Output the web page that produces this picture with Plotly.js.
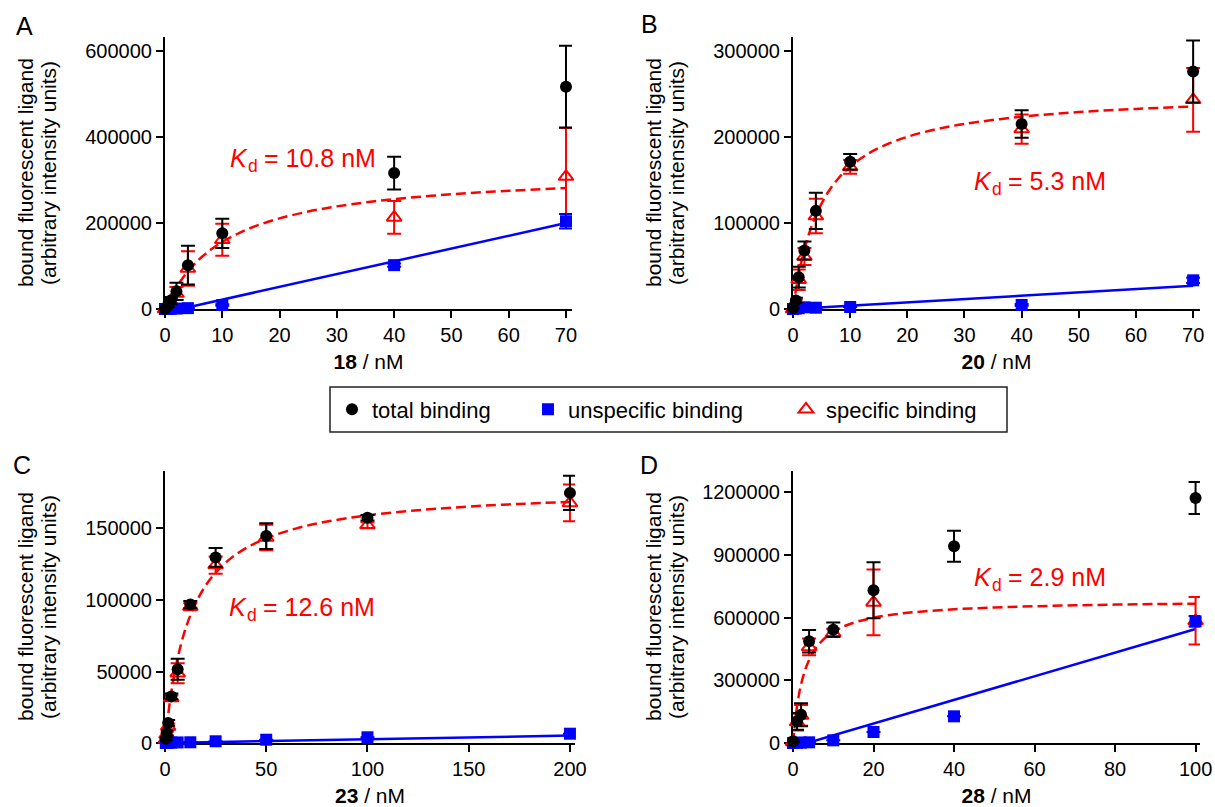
<!DOCTYPE html>
<html><head><meta charset="utf-8">
<script src="https://cdn.plot.ly/plotly-3.0.1.min.js"></script>
<style>html,body{margin:0;padding:0;background:#fff}#chart{width:1215px;height:807px}</style>
</head><body><div id="chart"></div>
<script>
// ---------- Panel A (compound 18) ----------
const concA = [0, 0.5, 1, 2, 4, 10, 40, 70];
const totalA = [0, 8000, 20000, 41000, 102000, 176000, 316000, 517000];
const totalErrA = [0, 3000, 8000, 20000, 45000, 34000, 38000, 95000];
const unspecA = [0, 0, 500, 1000, 2000, 9300, 102000, 204000];
const unspecErrA = [0, 0, 0, 0, 0, 2000, 4000, 17000];
const specA = [0, 7000, 17000, 36000, 94000, 161000, 213000, 308000];
const specErrA = [0, 3000, 8000, 15000, 40000, 37000, 38000, 113000];
const fitXA = [0, 0.5, 1, 2, 3, 4, 6, 8, 10, 13, 16, 20, 25, 30, 35, 40, 50, 60, 70];
const fitYA = [0, 14358, 27500, 50703, 70543, 87703, 115893, 138085, 156010, 177248, 193731, 210714, 226606, 238603, 247980, 255512, 266859, 275000, 281126];
const lineXA = [0, 70];
const lineYA = [-8000, 200000];

// ---------- Panel B (compound 20) ----------
const concB = [0, 0.5, 1, 2, 4, 10, 40, 70];
const totalB = [1000, 10000, 37000, 68000, 114000, 171000, 215000, 276000];
const totalErrB = [0, 3000, 12000, 10500, 21000, 9000, 16000, 36000];
const unspecB = [0, 500, 1000, 2000, 1500, 2300, 4700, 33300];
const unspecErrB = [0, 0, 0, 0, 0, 0, 1000, 3000];
const specB = [0, 8000, 34000, 61000, 108000, 165000, 209000, 243000];
const specErrB = [0, 3000, 12000, 10000, 20000, 8000, 17000, 37000];
const fitXB = [0, 0.5, 1, 2, 3, 4, 6, 8, 10, 13, 16, 20, 25, 30, 40, 50, 60, 70];
const fitYB = [0, 21810, 40159, 69315, 91446, 108817, 134336, 152180, 165359, 179727, 190047, 200000, 208746, 215014, 223400, 228752, 232466, 235193];
const lineXB = [0, 70];
const lineYB = [0, 27000];

// ---------- Panel C (compound 23) ----------
const concC = [0.39, 0.78, 1.56, 3.125, 6.25, 12.5, 25, 50, 100, 200];
const totalC = [3000, 7000, 14000, 32600, 51600, 96800, 129800, 144700, 157500, 174900];
const totalErrC = [1000, 1500, 2000, 2000, 7300, 2500, 6500, 9000, 2000, 12000];
const unspecC = [50, 100, 200, 300, 400, 500, 1200, 2300, 4000, 6500];
const unspecErrC = [0, 0, 0, 0, 0, 0, 0, 0, 0, 0];
const specC = [2500, 6000, 11600, 31400, 48800, 95400, 124400, 143700, 152400, 167900];
const specErrC = [1000, 1500, 2000, 2000, 7000, 2500, 6000, 9000, 2000, 12800];
const fitXC = [0, 0.5, 1, 2, 3, 4.5, 6, 8, 10, 12.5, 16, 20, 25, 32, 40, 50, 65, 80, 100, 125, 150, 175, 200];
const fitYC = [0, 6840, 13176, 24548, 34462, 47158, 57806, 69592, 79292, 89243, 100252, 109939, 119149, 128574, 136274, 143131, 150103, 154816, 159147, 162791, 165314, 167164, 168580];
const lineXC = [0, 200];
const lineYC = [0, 5200];

// ---------- Panel D (compound 28) ----------
const concD = [0, 1, 2, 4, 10, 20, 40, 100];
const totalD = [8000, 104000, 135600, 486700, 542500, 730800, 941500, 1172800];
const totalErrD = [5000, 40000, 55000, 54000, 34000, 134000, 74000, 77000];
const unspecD = [0, 1000, 2000, 3200, 12800, 52700, 127700, 582400];
const unspecErrD = [0, 0, 0, 0, 0, 0, 0, 25000];
const specD = [5000, 100000, 132000, 460000, 527000, 673000, null, 585000];
const specErrD = [5000, 40000, 50000, 40000, 20000, 157000, null, 114000];
const fitXD = [0, 0.25, 0.5, 1, 1.5, 2, 3, 4, 5, 6, 8, 10, 13, 16, 20, 25, 30, 40, 50, 60, 70, 80, 90, 100];
const fitYD = [0, 54476, 100941, 176000, 234000, 280163, 349017, 397913, 434430, 462742, 503780, 532093, 561208, 581079, 599476, 615054, 625897, 640000, 648771, 654754, 659095, 662388, 664973, 667055];
const lineXD = [0, 100];
const lineYD = [-20000, 546000];

// ---------- text ----------
const panelLetters = ['A', 'B', 'C', 'D'];
const compounds = ['18', '20', '23', '28'];
const kdLabels = ['10.8', '5.3', '12.6', '2.9'];
const seriesNames = ['total binding', 'unspecific binding', 'specific binding'];
const yTitleLines = ['bound fluorescent ligand', '(arbitrary intensity units)'];

const W = 1215, H = 807;
const FONT = 'Liberation Sans, Arial, Helvetica, sans-serif';
const RED = '#ff0000', BLUE = '#0000ff', BLACK = '#000000';
const px = v => v / W;
const py = v => 1 - v / H;

const panels = [
  {conc: concA, total: totalA, totalErr: totalErrA, unspec: unspecA, unspecErr: unspecErrA, spec: specA, specErr: specErrA, fitX: fitXA, fitY: fitYA, lineX: lineXA, lineY: lineYA},
  {conc: concB, total: totalB, totalErr: totalErrB, unspec: unspecB, unspecErr: unspecErrB, spec: specB, specErr: specErrB, fitX: fitXB, fitY: fitYB, lineX: lineXB, lineY: lineYB},
  {conc: concC, total: totalC, totalErr: totalErrC, unspec: unspecC, unspecErr: unspecErrC, spec: specC, specErr: specErrC, fitX: fitXC, fitY: fitYC, lineX: lineXC, lineY: lineYC},
  {conc: concD, total: totalD, totalErr: totalErrD, unspec: unspecD, unspecErr: unspecErrD, spec: specD, specErr: specErrD, fitX: fitXD, fitY: fitYD, lineX: lineXD, lineY: lineYD}
];

// layout geometry (pixels)
const geom = [
  {x0: 165, x1: 572, y0: 37, y1: 309, xr: [0, 71.05], yr: [0, 632500], dtick: 10, ytv: [0, 200000, 400000, 600000], letter: [24, 26], kd: [230, 158]},
  {x0: 793, x1: 1200, y0: 37, y1: 309, xr: [0, 71.2], yr: [0, 316000], dtick: 10, ytv: [0, 100000, 200000, 300000], letter: [649, 24], kd: [974, 181]},
  {x0: 165, x1: 575, y0: 471, y1: 743, xr: [0, 202.5], yr: [0, 190200], dtick: 50, ytv: [0, 50000, 100000, 150000], letter: [22, 465], kd: [229, 607]},
  {x0: 793, x1: 1200, y0: 471, y1: 743, xr: [0, 101.1], yr: [0, 1302000], dtick: 20, ytv: [0, 300000, 600000, 900000, 1200000], letter: [649, 465], kd: [974, 577]}
];

const traces = [];
const layout = {
  width: W, height: H,
  margin: {l: 0, r: 0, t: 0, b: 0},
  paper_bgcolor: '#fff', plot_bgcolor: '#fff',
  font: {family: FONT, color: BLACK, size: 20},
  annotations: [], shapes: []
};

const baseAxis = {
  showline: true, linewidth: 2, linecolor: BLACK,
  ticks: 'outside', ticklen: 7, tickwidth: 2, tickcolor: BLACK,
  showgrid: false, zeroline: false, layer: 'below traces',
  tickfont: {family: FONT, size: 20, color: BLACK}, fixedrange: true
};

function note(x, y, text, font, extra) {
  return Object.assign({xref: 'paper', yref: 'paper', x: px(x), y: py(y), xanchor: 'left', yanchor: 'middle',
    showarrow: false, text: text, borderpad: 0, borderwidth: 0, font: font}, extra || {});
}

panels.forEach((p, i) => {
  const s = i === 0 ? '' : String(i + 1);
  const xa = 'x' + s, ya = 'y' + s;
  const g = geom[i];
  const first = i === 0;

  traces.push({x: p.fitX, y: p.fitY, mode: 'lines', xaxis: xa, yaxis: ya, showlegend: false, hoverinfo: 'skip',
    line: {color: RED, width: 2.5, dash: '10px,5px', shape: 'spline'}});
  traces.push({x: p.lineX, y: p.lineY, mode: 'lines', xaxis: xa, yaxis: ya, showlegend: false, hoverinfo: 'skip',
    line: {color: BLUE, width: 2.5}});
  traces.push({x: p.conc, y: p.spec, mode: 'markers', name: seriesNames[2], xaxis: xa, yaxis: ya,
    legend: 'legend3', showlegend: first, cliponaxis: false,
    marker: {symbol: 'triangle-up-open', size: 13, color: RED, line: {color: RED, width: 2}},
    error_y: {type: 'data', array: p.specErr, visible: true, color: RED, thickness: 2, width: 7}});
  traces.push({x: p.conc, y: p.unspec, mode: 'markers', name: seriesNames[1], xaxis: xa, yaxis: ya,
    legend: 'legend2', showlegend: first, cliponaxis: false,
    marker: {symbol: 'square', size: 12, color: BLUE},
    error_y: {type: 'data', array: p.unspecErr, visible: true, color: BLUE, thickness: 2, width: 7}});
  traces.push({x: p.conc, y: p.total, mode: 'markers', name: seriesNames[0], xaxis: xa, yaxis: ya,
    legend: 'legend', showlegend: first, cliponaxis: false,
    marker: {symbol: 'circle', size: 12, color: BLACK},
    error_y: {type: 'data', array: p.totalErr, visible: true, color: BLACK, thickness: 2, width: 7}});

  layout['xaxis' + s] = Object.assign({}, baseAxis, {
    domain: [px(g.x0), px(g.x1)], range: g.xr, anchor: ya, tick0: 0, dtick: g.dtick,
    title: {text: '<b>' + compounds[i] + '</b> / nM', font: {family: FONT, size: 21, color: BLACK}, standoff: 9}
  });
  layout['yaxis' + s] = Object.assign({}, baseAxis, {
    domain: [py(g.y1), py(g.y0)], range: g.yr, anchor: xa, tickvals: g.ytv, tickformat: 'd'
  });

  // y-axis title: two lines, placed left of the tick labels
  const yMid = (g.y0 + g.y1) / 2;
  [0, 1].forEach(k => {
    layout.annotations.push(note(g.x0 - 140 + 23 * k, yMid, yTitleLines[k],
      {family: FONT, size: 21, color: BLACK}, {xanchor: 'center', textangle: -90}));
  });

  // panel letter
  layout.annotations.push(note(g.letter[0], g.letter[1], panelLetters[i],
    {family: FONT, size: 25, color: BLACK}, {xanchor: 'center'}));

  // K_d label: italic K, subscript d, then value
  const kx = g.kd[0], ky = g.kd[1];
  layout.annotations.push(note(kx, ky, 'K', {family: FONT, size: 25, color: RED, style: 'italic'}));
  layout.annotations.push(note(kx + 17.5, ky + 8, 'd', {family: FONT, size: 17.5, color: RED}));
  layout.annotations.push(note(kx + 34, ky, '= ' + kdLabels[i] + ' nM', {family: FONT, size: 25, color: RED}));
});

const legendBase = {orientation: 'h', yanchor: 'middle', xanchor: 'left', y: py(409.5),
  bgcolor: 'rgba(0,0,0,0)', borderwidth: 0, font: {family: FONT, size: 22, color: BLACK}};
layout.legend = Object.assign({}, legendBase, {x: px(332)});
layout.legend2 = Object.assign({}, legendBase, {x: px(528)});
layout.legend3 = Object.assign({}, legendBase, {x: px(786)});

layout.shapes.push({type: 'rect', xref: 'paper', yref: 'paper', x0: px(330), x1: px(1007), y0: py(432), y1: py(387),
  line: {color: '#222', width: 1.5}, fillcolor: 'rgba(0,0,0,0)'});

Plotly.newPlot('chart', traces, layout, {displayModeBar: false, staticPlot: true});
</script></body></html>
